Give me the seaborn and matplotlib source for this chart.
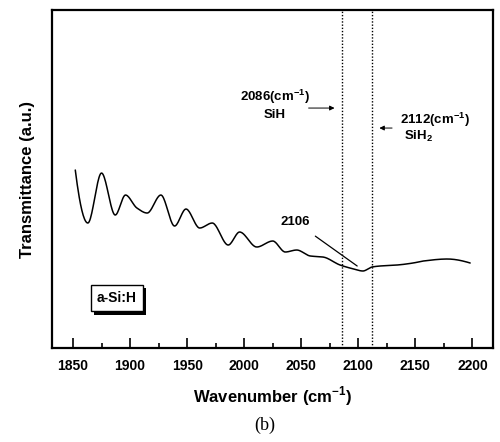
import matplotlib
matplotlib.use("Agg")
import matplotlib.pyplot as plt
import matplotlib.patheffects as pe
import seaborn as sns
import pandas as pd
import numpy as np

# Data (transmittance in arbitrary units)
wavenumber = [1852, 1863, 1875, 1887, 1896, 1906, 1915, 1927, 1939, 1949, 1961,
              1972, 1986, 1996, 2011, 2025, 2036, 2046, 2058, 2069, 2084, 2096,
              2104, 2112, 2119, 2134, 2148, 2157, 2178, 2198]
transmittance = [178, 125, 175, 133, 153, 140, 135, 153, 122, 139, 120,
                 125, 103, 116, 101, 107, 96, 98, 92, 91, 83, 79,
                 77, 81, 82, 83, 85, 87, 89, 85]
xticks = [1850, 1900, 1950, 2000, 2050, 2100, 2150, 2200]
sih_line = 2086
sih2_line = 2112

sns.set_style("ticks")
plt.rcParams['font.family'] = ['Liberation Sans', 'DejaVu Sans']
plt.rcParams['mathtext.fontset'] = 'custom'
plt.rcParams['mathtext.rm'] = 'Liberation Sans'
plt.rcParams['mathtext.bf'] = 'Liberation Sans:bold'
plt.rcParams['text.color'] = 'black'
plt.rcParams['axes.labelcolor'] = 'black'
plt.rcParams['xtick.color'] = 'black'
plt.rcParams['ytick.color'] = 'black'

fig = plt.figure(figsize=(5, 4.42), dpi=100)
ax = fig.add_axes([0.104, 0.2127, 0.882, 0.7645])

# smooth interpolation through the read points for drawing
xs = np.linspace(min(wavenumber), max(wavenumber), 600)
try:
    from scipy.interpolate import PchipInterpolator
    ys = PchipInterpolator(wavenumber, transmittance)(xs)
except Exception:
    ys = np.interp(xs, wavenumber, transmittance)
dfs = pd.DataFrame({"wn": xs, "T": ys})
sns.lineplot(data=dfs, x="wn", y="T", ax=ax, color="black", lw=1.1)

ax.axvline(sih_line, color="black", ls=(0, (1, 1.3)), lw=1.0)
ax.axvline(sih2_line, color="black", ls=(0, (1, 1.3)), lw=1.0)

ax.set_xlim(1831.6, 2218)
ax.set_ylim(0, 338)
ax.set_xticks(xticks)
ax.set_xticks(np.arange(1875, 2200, 50), minor=True)
ax.set_xticklabels([str(t) for t in xticks], fontweight="bold", fontsize=10)
ax.set_yticks([])
ax.tick_params(axis="x", which="major", direction="in", length=7, width=1.2, pad=8)
ax.tick_params(axis="x", which="minor", direction="in", length=3.5, width=1.2)
for s in ax.spines.values():
    s.set_linewidth(1.6)
    s.set_color("black")

ax.set_xlabel(r"Wavenumber (cm$^{\mathbf{-1}}$)", fontweight="bold", fontsize=12, labelpad=8)
ax.set_ylabel("Transmittance (a.u.)", fontweight="bold", fontsize=12, labelpad=12)

# annotations
ax.text(2027, 244, "2086(cm$^{\\mathbf{-1}}$)\nSiH", ha="center", va="center",
        fontweight="bold", fontsize=9.5, linespacing=1.3)
ax.annotate("", xy=(2081.6, 240), xytext=(2054, 240),
            arrowprops=dict(arrowstyle="-|>", lw=0.7, color="black", mutation_scale=7))
ax.text(2167, 228, "2112(cm$^{\\mathbf{-1}}$)", ha="center", va="center",
        fontweight="bold", fontsize=9.5)
ax.text(2153, 212, "SiH$_{\\mathbf{2}}$", ha="center", va="center",
        fontweight="bold", fontsize=9.5)
ax.annotate("", xy=(2116, 220), xytext=(2132, 220),
            arrowprops=dict(arrowstyle="-|>", lw=0.7, color="black", mutation_scale=7))
ax.annotate("2106", xy=(2099, 82), xytext=(2045, 126), ha="center", va="center",
            fontweight="bold", fontsize=9.5,
            arrowprops=dict(arrowstyle="-", lw=0.9, color="black", shrinkA=6, shrinkB=0))

# a-Si:H box with shadow
box = ax.text(0.147, 0.148, "a-Si:H", transform=ax.transAxes, ha="center", va="center",
              fontweight="bold", fontsize=10, color="black",
              bbox=dict(boxstyle="square,pad=0.45", fc="white", ec="black", lw=1))
box.get_bbox_patch().set_path_effects([
    pe.SimplePatchShadow(offset=(2.5, -2.5), shadow_rgbFace="black", alpha=1.0),
    pe.Normal()])

fig.text(0.53, 0.038, "(b)", ha="center", va="center", fontsize=13,
         family=["Liberation Serif", "DejaVu Serif"])

fig.savefig("out.png", dpi=100)
